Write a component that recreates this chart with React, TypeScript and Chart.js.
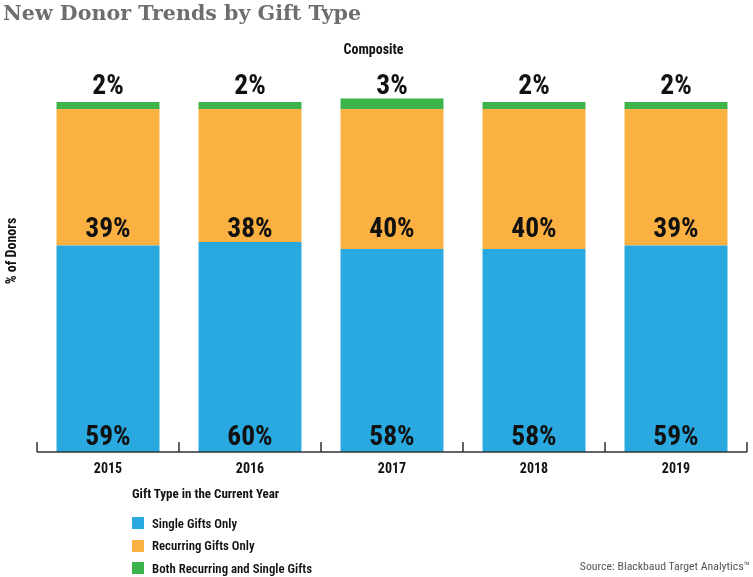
import React, { useEffect, useRef } from "react";
import { Chart, registerables } from "chart.js";

Chart.register(...registerables);

const years = ["2015", "2016", "2017", "2018", "2019"];
const singleGifts = [59, 60, 58, 58, 59];
const recurringGifts = [39, 38, 40, 40, 39];
const bothGifts = [2, 2, 3, 2, 2];
const seriesNames = ["Single Gifts Only", "Recurring Gifts Only", "Both Recurring and Single Gifts"];
const seriesColors = ["#29a9e0", "#fbb042", "#3bb54a"];
// value level (on the y scale) at which each series' labels sit
const labelLevels = [4.1, 63.4, 104.3];

const FONT = "Roboto, sans-serif";
const BOLD_COND = "bold condensed";

const axisPlugin = {
  id: "axisLine",
  afterDatasetsDraw(chart: any) {
    const { ctx, chartArea, scales } = chart;
    const x = scales.x;
    const y0 = chartArea.bottom;
    ctx.save();
    ctx.strokeStyle = "#333";
    ctx.lineWidth = 1.5;
    ctx.beginPath();
    ctx.moveTo(chartArea.left, y0);
    ctx.lineTo(chartArea.right, y0);
    const n = x.ticks.length;
    const step = (chartArea.right - chartArea.left) / n;
    for (let i = 0; i <= n; i++) {
      const px = chartArea.left + i * step;
      ctx.moveTo(px, y0);
      ctx.lineTo(px, y0 - 10);
    }
    ctx.stroke();
    ctx.restore();
  },
};

const labelPlugin = {
  id: "segLabels",
  afterDatasetsDraw(chart: any) {
    const { ctx, scales } = chart;
    ctx.save();
    ctx.fillStyle = "#111";
    ctx.font = `bold condensed 27.5px ${FONT}`;
    ctx.textAlign = "center";
    ctx.textBaseline = "middle";
    chart.data.datasets.forEach((ds: any, di: number) => {
      const meta = chart.getDatasetMeta(di);
      const py = scales.y.getPixelForValue(labelLevels[di]);
      meta.data.forEach((bar: any, i: number) => {
        ctx.fillText(ds.data[i] + "%", bar.x, py);
      });
    });
    ctx.restore();
  },
};

export default function App() {
  const ref = useRef<HTMLCanvasElement>(null);
  useEffect(() => {
    const values = [singleGifts, recurringGifts, bothGifts];
    const chart = new Chart(ref.current!, {
      type: "bar",
      data: {
        labels: years,
        datasets: values.map((d, i) => ({
          label: seriesNames[i],
          data: d,
          backgroundColor: seriesColors[i],
          borderWidth: 0,
          barPercentage: 0.725,
          categoryPercentage: 1,
        })),
      },
      options: {
        animation: false,
        responsive: false,
        maintainAspectRatio: false,
        layout: { padding: { left: 0, right: 6, top: 0, bottom: 0 } },
        plugins: {
          legend: { display: false },
          tooltip: { enabled: false },
          title: {
            display: true,
            text: "Composite",
            color: "#111",
            font: { family: FONT, size: 14, weight: BOLD_COND as any },
            padding: { top: 42, bottom: -8.8 },
          },
        },
        scales: {
          x: {
            stacked: true,
            grid: { display: false, drawTicks: false },
            border: { display: false },
            ticks: {
              color: "#111",
              padding: 9,
              font: { family: FONT, size: 14, weight: BOLD_COND as any },
            },
            afterFit: (s: any) => {
              s.height = 125;
            },
          },
          y: {
            stacked: true,
            min: 0,
            max: 114.86,
            grid: { display: false, drawTicks: false },
            border: { display: false },
            ticks: { display: false },
            title: {
              display: true,
              text: "% of Donors",
              color: "#111",
              font: { family: FONT, size: 14, weight: BOLD_COND as any },
              padding: { top: 4, bottom: 4 },
            },
            afterFit: (s: any) => {
              s.width = 37;
            },
          },
        },
      },
      plugins: [axisPlugin, labelPlugin],
    });
    return () => chart.destroy();
  }, []);

  const cond: React.CSSProperties = { fontFamily: FONT, fontStretch: "75%", whiteSpace: "nowrap", position: "absolute" };

  return (
    <div style={{ position: "fixed", left: 0, top: 0, width: 753, height: 577, background: "#fff" }}>
      <canvas ref={ref} width={753} height={577} style={{ position: "absolute", left: 0, top: 0 }} />
      <div
        style={{
          position: "absolute",
          left: 3,
          top: 0,
          fontFamily: '"DejaVu Serif", serif',
          fontWeight: "bold",
          fontSize: 20.6,
          lineHeight: "26px",
          color: "#6d6e71",
          whiteSpace: "nowrap",
        }}
      >
        New Donor Trends by Gift Type
      </div>
      <div
        style={{
          ...cond,
          left: 132,
          top: 485,
          fontWeight: 700,
          fontSize: 13,
          color: "#111",
          lineHeight: "18px",
        }}
      >
        Gift Type in the Current Year
      </div>
      {seriesNames.map((name, i) => (
        <div
          key={name}
          style={{
            ...cond,
            left: 132,
            top: 514 + i * 22.5,
            height: 18,
            display: "flex",
            alignItems: "center",
            fontWeight: 600,
            fontSize: 12.8,
            color: "#111",
          }}
        >
          <span style={{ display: "inline-block", width: 12, height: 12, background: seriesColors[i], marginRight: 8 }} />
          {name}
        </div>
      ))}
      <div
        style={{
          ...cond,
          right: 3,
          top: 557,
          fontSize: 11.8,
          color: "#555",
          lineHeight: "18px",
        }}
      >
        Source: Blackbaud Target Analytics™
      </div>
    </div>
  );
}
